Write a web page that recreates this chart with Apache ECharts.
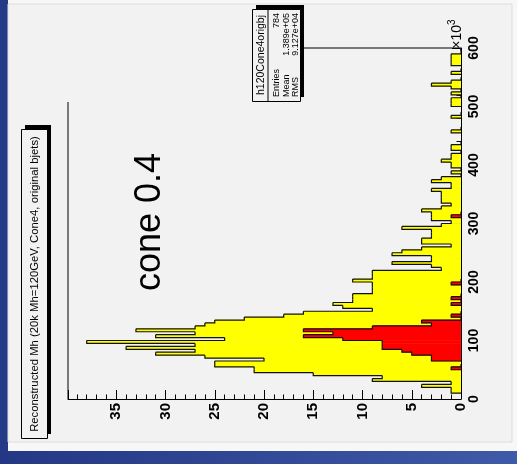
<!DOCTYPE html>
<html><head><meta charset="utf-8">
<script src="https://cdn.jsdelivr.net/npm/echarts@6/dist/echarts.min.js"></script>
<style>html,body{margin:0;padding:0;background:#f7f7f7;}#c{width:517px;height:464px;}</style>
</head><body><div id="c"></div>
<script>
// ---------- data ----------
const binWidth = 5;          // mass bin width (x10^3)
const massMin = 0;
const yellowCounts = [0,0,1,1,4,1,9,8,15,21,21,25,25,20,26,31,27,34,27,38,
  24,31,27,33,27,26,25,22,18,16,9,12,13,11,11,11,9,9,9,9,
  11,9,9,9,2,3,7,3,3,7,6,4,1,4,4,3,3,3,6,2,
  1,3,3,3,4,2,1,2,2,2,2,3,1,1,3,2,0,1,0,1,
  1,2,1,1,0,1,1,0,0,0,0,1,0,0,0,0,1,0,0,0,
  1,1,1,0,1,0,1,3,1,0,0,1,0,0,1,1,1,1,0,0];
const redCounts = [0,0,0,0,0,0,0,0,0,0,1,0,0,3,3,5,6,8,8,8,
  12,16,13,16,9,3,4,0,1,0,0,0,1,0,1,0,0,0,0,1,
  0,0,0,0,0,0,0,0,0,0,0,0,0,0,0,0,0,0,0,0,
  0,0,1,0,0,0,0,0,0,0,0,0,0,0,0,0,0,0,0,0,
  0,0,0,0,0,0,0,0,0,0,0,0,0,0,0,0,0,0,0,0,
  0,0,0,0,0,0,0,0,0,0,0,0,0,0,0,0,0,0,0,0];
const massTicks = [0,100,200,300,400,500,600];
const countTicks = [0,5,10,15,20,25,30,35];
const histName = 'h120Cone4origbj';
const statNames = ['Entries','Mean','RMS'];
const statValues = ['784','1.389e+05','9.127e+04'];
const titleText = 'Reconstructed Mh (20k Mh=120GeV, Cone4, original bjets)';
const noteText = 'cone 0.4';
const countMax = 39.9;

// ---------- build ----------
function toItems(counts){
  return counts.map((v,i)=>{
    const lo = massMin + i*binWidth, hi = lo + binWidth;
    const prev = i>0 ? counts[i-1] : 0;
    const next = i<counts.length-1 ? counts[i+1] : 0;
    return [lo, hi, v, prev, next];
  });
}
function fillRender(color){
  return function(params, api){
    const v = api.value(2);
    if (v <= 0) return null;
    const p0 = api.coord([0, api.value(0)]);
    const p1 = api.coord([v, api.value(1)]);
    return {type:'rect', shape:{x:Math.min(p0[0],p1[0]), y:Math.min(p0[1],p1[1])-0.3,
      width:Math.abs(p1[0]-p0[0]), height:Math.abs(p1[1]-p0[1])+0.6},
      style:{fill:color}};
  };
}
function lineRender(n){
  return function(params, api){
    const lo = api.value(0), hi = api.value(1), v = api.value(2), prev = api.value(3);
    if (v === 0 && prev === 0 && !(params.dataIndex === n-1)) return null;
    const pts = [api.coord([prev, lo]), api.coord([v, lo]), api.coord([v, hi])];
    if (params.dataIndex === n-1) pts.push(api.coord([0, hi]));
    return {type:'polyline', shape:{points:pts}, style:{stroke:'#111', lineWidth:1.2, fill:null}};
  };
}
const yItems = toItems(yellowCounts), rItems = toItems(redCounts);
const enc = {x:2, y:[0,1]};

const chart = echarts.init(document.getElementById('c'), null, {renderer:'canvas'});
const FONT = 'Liberation Sans';
const gLeft = 68, gTop = 48, gRight = 461, gBottom = 399;

const option = {
  animation:false,
  backgroundColor:'#f7f7f7',
  grid:{left:gLeft, top:gTop, width:gRight-gLeft, height:gBottom-gTop, show:false},
  xAxis:{type:'value', inverse:true, min:0, max:countMax, interval:5, position:'bottom',
    axisLine:{show:true, onZero:false, lineStyle:{color:'#000', width:1}},
    axisTick:{show:true, inside:true, length:9, lineStyle:{color:'#000'}},
    minorTick:{show:true, splitNumber:5, length:4.5, lineStyle:{color:'#000'}},
    splitLine:{show:false},
    axisLabel:{rotate:90, margin:4, fontSize:15, fontWeight:'bold', color:'#000', fontFamily:FONT,
      showMaxLabel:false, formatter:v=>countTicks.indexOf(v)>=0?String(v):''}},
  yAxis:{type:'value', min:0, max:600, interval:100, position:'right',
    axisLine:{show:true, onZero:false, lineStyle:{color:'#000', width:1}},
    axisTick:{show:true, inside:true, length:9, lineStyle:{color:'#000'}},
    minorTick:{show:true, splitNumber:5, length:4.5, lineStyle:{color:'#000'}},
    splitLine:{show:false},
    axisLabel:{rotate:90, margin:6, fontSize:14, fontWeight:'bold', color:'#000', fontFamily:FONT,
      formatter:v=>massTicks.indexOf(v)>=0?String(v):''}},
  series:[
    {type:'custom', name:'all', data:yItems, encode:enc, renderItem:fillRender('#ffff00'), z:2, clip:true},
    {type:'custom', name:'allLine', data:yItems, encode:enc, renderItem:lineRender(yItems.length), z:3, clip:true},
    {type:'custom', name:'sel', data:rItems, encode:enc, renderItem:fillRender('#ff0000'), z:4, clip:true},
    {type:'custom', name:'selLine', data:rItems, encode:enc, renderItem:lineRender(rItems.length), z:5, clip:true}
  ],
  graphic:[
    // slide background
    {type:'rect', z:-10, shape:{x:0,y:0,width:8,height:464}, style:{fill:'#243a86'}},
    {type:'rect', z:-10, shape:{x:0,y:451,width:517,height:13},
      style:{fill:new echarts.graphic.LinearGradient(0,0,1,0,[{offset:0,color:'#243784'},{offset:1,color:'#3f5aa8'}])}},
    {type:'rect', z:-9, shape:{x:8,y:4,width:504,height:438}, style:{fill:'#f2f2f2', stroke:'#dddddd', lineWidth:1}},
    // frame lines (top and left), partly hidden in the reference
    {type:'line', z:1, shape:{x1:303,y1:gTop,x2:gRight,y2:gTop}, style:{stroke:'#000', lineWidth:1}},
    {type:'line', z:1, shape:{x1:gLeft,y1:102,x2:gLeft,y2:gBottom}, style:{stroke:'#000', lineWidth:1}},
    // title box with shadow
    {type:'rect', z:10, shape:{x:25,y:125,width:26,height:309}, style:{fill:'#000'}},
    {type:'rect', z:11, shape:{x:21.5,y:129.5,width:26,height:309}, style:{fill:'#f2f2f2', stroke:'#000', lineWidth:1}},
    {type:'text', z:12, x:35, y:284, rotation:Math.PI/2,
      style:{text:titleText, fontSize:11.3, fontFamily:FONT, fill:'#000', align:'center', verticalAlign:'middle'}},
    // stats box
    {type:'rect', z:10, shape:{x:256,y:5,width:48,height:92}, style:{fill:'#000'}},
    {type:'rect', z:11, shape:{x:252.5,y:9.5,width:48,height:92}, style:{fill:'#f2f2f2', stroke:'#000', lineWidth:1}},
    {type:'line', z:12, shape:{x1:268,y1:9.5,x2:268,y2:101.5}, style:{stroke:'#000', lineWidth:1}},
    {type:'text', z:12, x:261, y:55, rotation:Math.PI/2,
      style:{text:histName, fontSize:10.5, fontFamily:FONT, fill:'#000', align:'center', verticalAlign:'middle'}},
    {type:'text', z:12, x:276.5, y:97, rotation:Math.PI/2, style:{text:statNames[0], fontSize:9, fontFamily:FONT, fill:'#000', align:'left', verticalAlign:'middle'}},
    {type:'text', z:12, x:276.5, y:13, rotation:Math.PI/2, style:{text:statValues[0], fontSize:9, fontFamily:FONT, fill:'#000', align:'right', verticalAlign:'middle'}},
    {type:'text', z:12, x:286.5, y:97, rotation:Math.PI/2, style:{text:statNames[1], fontSize:9, fontFamily:FONT, fill:'#000', align:'left', verticalAlign:'middle'}},
    {type:'text', z:12, x:286.5, y:13, rotation:Math.PI/2, style:{text:statValues[1], fontSize:9, fontFamily:FONT, fill:'#000', align:'right', verticalAlign:'middle'}},
    {type:'text', z:12, x:295.5, y:97, rotation:Math.PI/2, style:{text:statNames[2], fontSize:9, fontFamily:FONT, fill:'#000', align:'left', verticalAlign:'middle'}},
    {type:'text', z:12, x:295.5, y:13, rotation:Math.PI/2, style:{text:statValues[2], fontSize:9, fontFamily:FONT, fill:'#000', align:'right', verticalAlign:'middle'}},
    // x10^3
    {type:'text', z:12, x:457, y:34, rotation:Math.PI/2,
      style:{text:'{a|\u00d710}{b|3}', align:'center', verticalAlign:'middle',
        rich:{a:{fontSize:14, fontFamily:FONT, fill:'#000'}, b:{fontSize:10, fontFamily:FONT, fill:'#000', verticalAlign:'top', padding:[0,0,10,0]}}}},
    // annotation
    {type:'text', z:12, x:150, y:222, rotation:Math.PI/2,
      style:{text:noteText, fontSize:36, fontFamily:FONT, fill:'#000', align:'center', verticalAlign:'middle'}}
  ]
};
chart.setOption(option);
</script></body></html>
